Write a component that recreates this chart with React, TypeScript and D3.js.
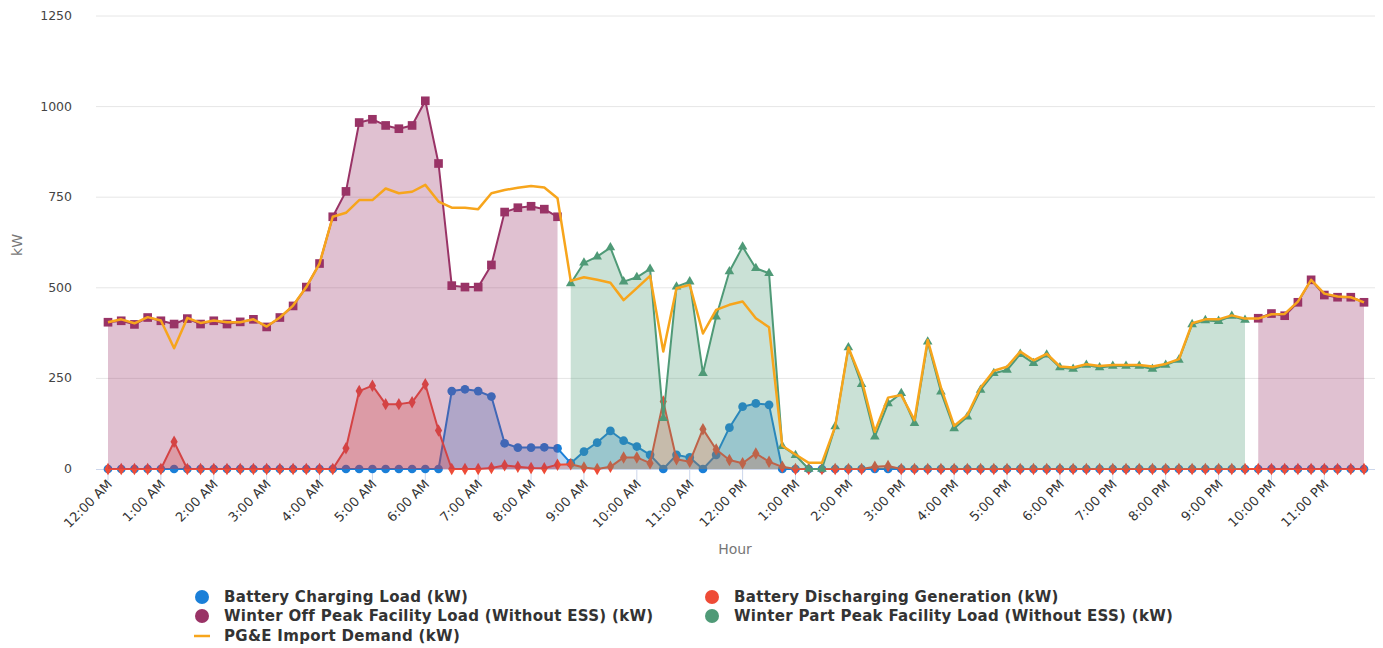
import React from 'react';
import * as d3 from 'd3';

// 15-minute intervals, 96 per day
const hourLabels = [
  '12:00 AM', '1:00 AM', '2:00 AM', '3:00 AM', '4:00 AM', '5:00 AM', '6:00 AM', '7:00 AM',
  '8:00 AM', '9:00 AM', '10:00 AM', '11:00 AM', '12:00 PM', '1:00 PM', '2:00 PM', '3:00 PM',
  '4:00 PM', '5:00 PM', '6:00 PM', '7:00 PM', '8:00 PM', '9:00 PM', '10:00 PM', '11:00 PM',
];

const yTicks = [0, 250, 500, 750, 1000, 1250];

const charging = [
  0, 0, 0, 0, 0, 0, 0, 0, 0, 0, 0, 0, 0, 0, 0, 0, 0, 0, 0, 0, 0, 0, 0, 0, 0, 0,
  215, 220, 215, 200, 71, 59, 59, 60, 57, 16, 48, 73, 105, 78, 62, 39, 0, 39, 32, 0,
  39, 114, 172, 181, 177, 0, 0, 0, 0, 0, 0, 0, 0, 0, 0, 0, 0, 0, 0, 0, 0, 0, 0, 0,
  0, 0, 0, 0, 0, 0, 0, 0, 0, 0, 0, 0, 0, 0, 0, 0, 0, 0, 0, 0, 0, 0, 0, 0, 0, 0,
];

const discharging = [
  0, 0, 0, 0, 0, 75, 0, 0, 0, 0, 0, 0, 0, 0, 0, 0, 0, 0, 57, 215, 230, 179, 179, 184,
  234, 106, 0, 0, 0, 3, 10, 6, 3, 2, 12, 13, 4, 0, 6, 32, 32, 16, 186, 27, 20, 110,
  54, 25, 16, 43, 20, 6, 0, 0, 0, 0, 0, 0, 6, 8, 0, 0, 0, 0, 0, 0, 0, 0, 0, 0,
  0, 0, 0, 0, 0, 0, 0, 0, 0, 0, 0, 0, 0, 0, 0, 0, 0, 0, 0, 0, 0, 0, 0, 0, 0, 0,
];

const offPeak: (number | null)[] = [
  405, 409, 399, 418, 409, 400, 415, 400, 409, 400, 406, 413, 392, 418, 450, 502, 567, 696,
  766, 956, 965, 948, 939, 948, 1016, 843, 506, 502, 502, 563, 709, 721, 725, 717, 696,
  ...Array(52).fill(null),
  416, 429, 423, 460, 522, 480, 474, 474, 460,
];

const partPeak: (number | null)[] = [
  ...Array(35).fill(null),
  512, 569, 586, 611, 517, 529, 552, 140, 503, 517, 264, 420, 545, 613, 554, 540, 63, 38,
  0, 0, 117, 335, 234, 89, 181, 209, 126, 351, 213, 112, 144, 218, 264, 273, 317, 292,
  315, 280, 276, 287, 280, 284, 284, 284, 276, 287, 301, 399, 410, 408, 422, 411,
  ...Array(9).fill(null),
];

const importDemand = [
  405, 413, 402, 419, 410, 333, 417, 403, 410, 405, 405, 413, 393, 418, 451, 502, 567, 696,
  707, 742, 742, 774, 761, 765, 784, 738, 721, 721, 717, 761, 770, 776, 781, 777, 747,
  519, 529, 522, 514, 466, 499, 533, 324, 499, 508, 374, 439, 453, 462, 416, 391, 64, 40,
  17, 17, 117, 335, 246, 103, 197, 204, 135, 356, 225, 119, 149, 225, 271, 282, 324, 300,
  318, 283, 280, 289, 284, 287, 287, 287, 283, 290, 303, 402, 413, 413, 424, 415,
  415, 427, 428, 462, 522, 484, 476, 474, 460,
];

const BLUE = '#1a7fd8';
const RED = '#ee4b36';
const PURPLE = '#993366';
const GREEN = '#4f9a77';
const ORANGE = '#f7a51c';

const FONT = '"DejaVu Sans", Verdana, sans-serif';

const x = d3.scaleLinear().domain([0, 95]).range([108, 1364]);
const y = d3.scaleLinear().domain([0, 1250]).range([469, 16]);
const plotLeft = 96;
const plotRight = 1375;

type Sym = 'circle' | 'diamond' | 'square' | 'triangle' | null;

function Series({ data, color, symbol, fill, size, width = 2 }: { data: (number | null)[]; color: string; symbol: Sym; fill: boolean; size: number; width?: number }) {
  const pts = data.map((v, i) => [i, v] as [number, number | null]);
  const area = d3.area<[number, number | null]>()
    .defined(d => d[1] != null)
    .x(d => x(d[0]))
    .y0(y(0))
    .y1(d => y(d[1] as number));
  const line = d3.line<[number, number | null]>()
    .defined(d => d[1] != null)
    .x(d => x(d[0]))
    .y(d => y(d[1] as number));
  const symType = symbol === 'circle' ? d3.symbolCircle
    : symbol === 'diamond' ? d3.symbolDiamond
    : symbol === 'square' ? d3.symbolSquare
    : d3.symbolTriangle;
  const sym = d3.symbol().type(symType).size(size);
  return (
    <g>
      {fill && <path d={area(pts) || ''} fill={color} fillOpacity={0.3} stroke="none" />}
      <path d={line(pts) || ''} fill="none" stroke={color} strokeWidth={width} strokeLinejoin="round" />
      {symbol && pts.filter(d => d[1] != null).map(d => (
        <path key={d[0]} d={sym() || ''} fill={color}
          transform={`translate(${x(d[0])},${y(d[1] as number)})`} />
      ))}
    </g>
  );
}

const legendItems = [
  { label: 'Battery Charging Load (kW)', color: BLUE, col: 0, row: 0, line: false },
  { label: 'Battery Discharging Generation (kW)', color: RED, col: 1, row: 0, line: false },
  { label: 'Winter Off Peak Facility Load (Without ESS) (kW)', color: PURPLE, col: 0, row: 1, line: false },
  { label: 'Winter Part Peak Facility Load (Without ESS) (kW)', color: GREEN, col: 1, row: 1, line: false },
  { label: 'PG&E Import Demand (kW)', color: ORANGE, col: 0, row: 2, line: true },
];

export default function App() {
  const tickIdx = d3.range(0, 96, 4);
  return (
    <svg width={1383} height={648} style={{ position: 'absolute', left: 0, top: 0, background: '#fff' }}
      fontFamily={FONT}>
      {/* grid */}
      {yTicks.map(t => (
        <g key={t}>
          {t > 0 && <line x1={plotLeft} x2={plotRight} y1={y(t)} y2={y(t)} stroke="#e6e6e6" strokeWidth={1} />}
          <text x={72} y={y(t) + 4} textAnchor="end" fontSize={12.5} fill="#444">{t}</text>
        </g>
      ))}
      {/* x axis */}
      <line x1={plotLeft} x2={plotRight} y1={469.5} y2={469.5} stroke="#ccd6eb" />
      {tickIdx.map((i, k) => (
        <g key={i}>
          <line x1={x(i)} x2={x(i)} y1={469} y2={480} stroke="#ccd6eb" />
          <text fontSize={13} fill="#333" textAnchor="end"
            transform={`translate(${x(i) + 5},${485}) rotate(-45)`}>{hourLabels[k]}</text>
        </g>
      ))}
      <text x={735} y={554} textAnchor="middle" fontSize={14} fill="#777">Hour</text>
      <text transform="translate(22,245) rotate(-90)" textAnchor="middle" fontSize={14} fill="#777">kW</text>

      <Series data={charging} color={BLUE} symbol="circle" fill size={60} />
      <Series data={discharging} color={RED} symbol="diamond" fill size={45} />
      <Series data={offPeak} color={PURPLE} symbol="square" fill size={75} />
      <Series data={partPeak} color={GREEN} symbol="triangle" fill size={40} />
      <Series data={importDemand} color={ORANGE} symbol={null} fill={false} size={0} width={2.5} />

      {/* legend */}
      {legendItems.map(it => {
        const mx = it.col === 0 ? 202 : 712;
        const my = [597, 616, 636][it.row];
        return (
          <g key={it.label}>
            {it.line
              ? <line x1={mx - 8} x2={mx + 8} y1={my} y2={my} stroke={it.color} strokeWidth={2.5} />
              : <circle cx={mx} cy={my} r={7} fill={it.color} />}
            <text x={mx + 22} y={my + 5} fontSize={15} fontWeight="bold" fill="#333"
              letterSpacing={0.3}>{it.label}</text>
          </g>
        );
      })}
    </svg>
  );
}
